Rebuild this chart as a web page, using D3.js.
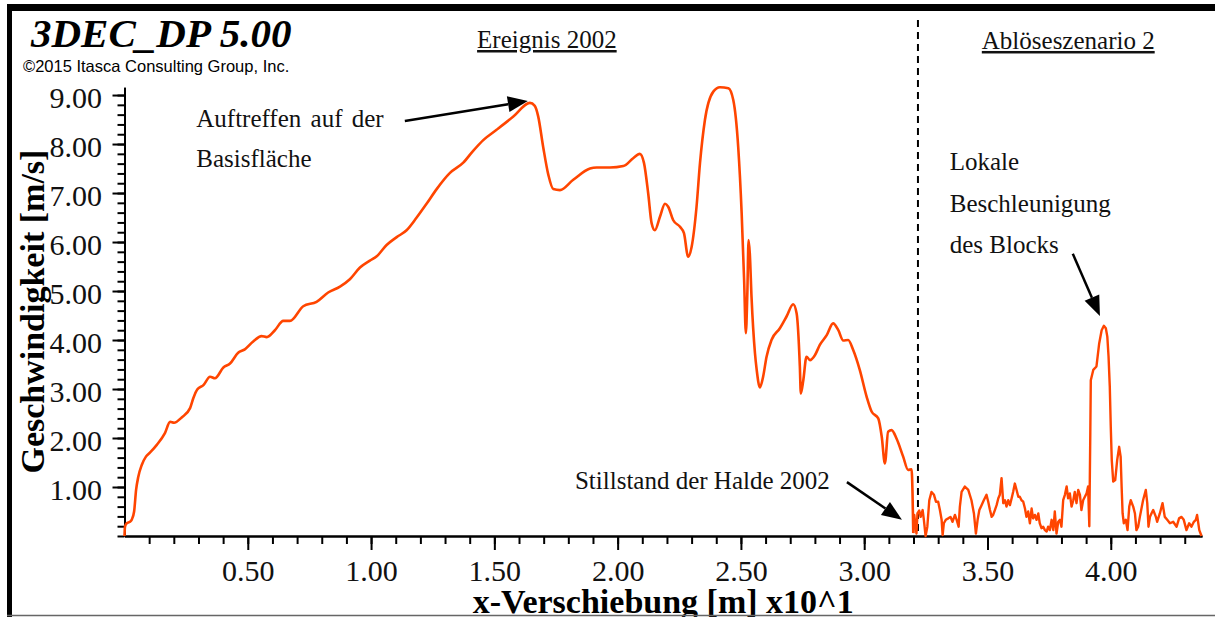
<!DOCTYPE html>
<html>
<head>
<meta charset="utf-8">
<script src="https://cdn.jsdelivr.net/npm/d3@7"></script>
<style>
  html, body { margin: 0; padding: 0; background: #fff; }
  svg { display: block; }
</style>
</head>
<body>
<svg id="chart" width="1215" height="617"></svg>
<script>
// x-displacement (x10^1 m) of the block
const displacement = [
  0, 0.002, 0.009, 0.022, 0.029, 0.039, 0.047, 0.056, 0.070, 0.087,
  0.103, 0.131, 0.164, 0.185, 0.201, 0.232, 0.266, 0.279, 0.295, 0.320,
  0.347, 0.367, 0.401, 0.428, 0.461, 0.488, 0.522, 0.556, 0.577, 0.610,
  0.644, 0.671, 0.725, 0.779, 0.826, 0.874, 0.914, 0.955, 0.995, 1.023,
  1.063, 1.104, 1.144, 1.185, 1.225, 1.266, 1.320, 1.374, 1.414, 1.455,
  1.509, 1.577, 1.644, 1.664, 1.678, 1.698, 1.719, 1.739, 1.766, 1.820,
  1.888, 1.915, 1.969, 2.023, 2.063, 2.090, 2.107, 2.124, 2.138, 2.151,
  2.172, 2.192, 2.205, 2.225, 2.253, 2.269, 2.286, 2.300, 2.320, 2.334,
  2.354, 2.388, 2.415, 2.449, 2.469, 2.489, 2.503, 2.513, 2.520, 2.526,
  2.531, 2.536, 2.543, 2.557, 2.564, 2.577, 2.590, 2.604, 2.624, 2.658,
  2.685, 2.712, 2.726, 2.739, 2.743, 2.753, 2.766, 2.780, 2.800, 2.820,
  2.848, 2.874, 2.895, 2.915, 2.935, 2.955, 2.982, 3.010, 3.030, 3.057,
  3.071, 3.084, 3.097, 3.111, 3.131, 3.158, 3.178, 3.192, 3.196, 3.199,
  3.203, 3.207, 3.212, 3.216, 3.223, 3.229, 3.237, 3.242, 3.249, 3.256,
  3.264, 3.273, 3.283, 3.291, 3.300, 3.307, 3.314, 3.318, 3.323, 3.331,
  3.341, 3.350, 3.358, 3.368, 3.375, 3.383, 3.388, 3.395, 3.408, 3.422,
  3.435, 3.445, 3.453, 3.460, 3.467, 3.476, 3.485, 3.496, 3.503, 3.510,
  3.517, 3.523, 3.530, 3.537, 3.544, 3.550, 3.557, 3.564, 3.571, 3.577,
  3.584, 3.591, 3.598, 3.604, 3.611, 3.618, 3.625, 3.631, 3.638, 3.645,
  3.652, 3.658, 3.665, 3.672, 3.679, 3.685, 3.692, 3.699, 3.706, 3.712,
  3.719, 3.726, 3.733, 3.740, 3.746, 3.753, 3.760, 3.767, 3.773, 3.780,
  3.787, 3.794, 3.800, 3.807, 3.814, 3.821, 3.827, 3.834, 3.841, 3.848,
  3.854, 3.861, 3.868, 3.875, 3.881, 3.888, 3.895, 3.902, 3.908, 3.913,
  3.917, 3.919, 3.929, 3.942, 3.953, 3.963, 3.972, 3.980, 3.986, 3.991,
  3.996, 4.000, 4.004, 4.010, 4.018, 4.026, 4.034, 4.040, 4.044, 4.048,
  4.053, 4.061, 4.068, 4.075, 4.081, 4.091, 4.098, 4.104, 4.111, 4.118,
  4.131, 4.142, 4.148, 4.153, 4.159, 4.165, 4.172, 4.183, 4.188, 4.199,
  4.210, 4.219, 4.229, 4.240, 4.253, 4.267, 4.277, 4.287, 4.296, 4.307,
  4.318, 4.327, 4.337, 4.345, 4.350, 4.359, 4.368
];

// velocity (m/s) at each displacement
const velocity = [
  0, 0.19, 0.26, 0.29, 0.33, 0.50, 0.94, 1.21, 1.45, 1.62,
  1.70, 1.86, 2.10, 2.33, 2.31, 2.42, 2.61, 2.81, 2.99, 3.08,
  3.25, 3.22, 3.44, 3.52, 3.74, 3.81, 3.97, 4.08, 4.06, 4.20,
  4.39, 4.39, 4.69, 4.78, 4.97, 5.09, 5.24, 5.48, 5.62, 5.71,
  5.94, 6.10, 6.24, 6.50, 6.78, 7.08, 7.41, 7.62, 7.86, 8.08,
  8.29, 8.56, 8.84, 8.78, 8.56, 7.94, 7.37, 7.08, 7.06, 7.27,
  7.50, 7.52, 7.52, 7.55, 7.71, 7.80, 7.61, 6.99, 6.38, 6.24,
  6.52, 6.78, 6.72, 6.45, 6.31, 6.18, 5.70, 5.90, 6.72, 7.61,
  8.49, 9.07, 9.16, 9.14, 8.90, 7.94, 6.59, 5.22, 4.14, 4.95,
  6.04, 5.77, 4.88, 3.73, 3.39, 3.03, 3.25, 3.66, 4.00, 4.24,
  4.48, 4.73, 4.54, 3.46, 2.91, 3.18, 3.66, 3.59, 3.69, 3.90,
  4.10, 4.34, 4.20, 3.99, 4.00, 3.80, 3.39, 2.84, 2.54, 2.40,
  2.03, 1.48, 2.13, 2.16, 1.99, 1.62, 1.35, 1.36, 0.87, 0.06,
  0.43, 0.26, 0.05, 0.46, 0.52, 0.39, 0.53, 0.33, 0.00, 0.19,
  0.73, 0.90, 0.84, 0.70, 0.70, 0.53, 0.33, 0.02, 0.26, 0.33,
  0.36, 0.39, 0.29, 0.43, 0.33, 0.19, 0.60, 0.90, 1.01, 0.94,
  0.73, 0.46, 0.05, 0.33, 0.53, 0.63, 0.73, 0.84, 0.70, 0.53,
  0.39, 0.43, 0.53, 0.63, 0.77, 0.84, 1.18, 0.67, 0.73, 0.60,
  0.73, 0.63, 0.77, 0.90, 1.07, 0.94, 0.80, 0.80, 0.73, 0.70,
  0.56, 0.39, 0.50, 0.26, 0.56, 0.36, 0.43, 0.33, 0.46, 0.26,
  0.16, 0.19, 0.12, 0.09, 0.19, 0.12, 0.33, 0.12, 0.50, 0.05,
  0.29, 0.33, 0.19, 0.73, 0.84, 1.01, 0.77, 0.87, 0.60, 0.73,
  0.90, 0.67, 0.94, 0.84, 0.53, 0.73, 0.80, 0.87, 1.01, 0.20,
  2.10, 3.18, 3.39, 3.46, 3.93, 4.20, 4.29, 4.24, 4.07, 3.66,
  3.05, 2.23, 1.55, 1.11, 1.14, 1.55, 1.82, 1.62, 1.01, 0.46,
  0.26, 0.33, 0.12, 0.60, 0.73, 0.60, 0.46, 0.12, 0.19, 0.39,
  0.73, 0.94, 0.67, 0.19, 0.39, 0.46, 0.53, 0.39, 0.29, 0.46,
  0.67, 0.39, 0.33, 0.26, 0.29, 0.19, 0.36, 0.39, 0.33, 0.12,
  0.26, 0.19, 0.29, 0.33, 0.43, 0.12, 0.00
];

const xMajorTicks = [0.5, 1.0, 1.5, 2.0, 2.5, 3.0, 3.5, 4.0];
const xMinorTicks = d3.range(1, 44).map(i => i / 10);
const yMajorTicks = [1, 2, 3, 4, 5, 6, 7, 8, 9];
const yMinorTicks = d3.range(0, 46).map(i => i / 5);

// boundary between the 2002 event and release scenario 2
const stillstandX = 3.218;

const serif = "'Liberation Serif', 'Times New Roman', serif";
const sans = "'Liberation Sans', Arial, sans-serif";
const lineColor = "#ff4500";

const svg = d3.select("#chart");

const x = d3.scaleLinear().domain([0, 4.37]).range([124.5, 1202]);
const y = d3.scaleLinear().domain([0, 9.16]).range([536, 87.2]);

// page frame
svg.append("rect").attr("x", 7).attr("y", 4).attr("width", 1215).attr("height", 7).attr("fill", "#000");
svg.append("rect").attr("x", 7).attr("y", 4).attr("width", 5).attr("height", 613).attr("fill", "#000");

// header
svg.append("text").attr("x", 31).attr("y", 47)
  .attr("font-family", serif).attr("font-weight", "bold").attr("font-style", "italic")
  .attr("font-size", 41).attr("fill", "#000").text("3DEC_DP 5.00");
svg.append("text").attr("x", 23).attr("y", 72)
  .attr("font-family", sans).attr("font-size", 16.5).attr("fill", "#000")
  .text("\u00a92015 Itasca Consulting Group, Inc.");

// axes
function styleAxis(g) {
  g.select(".domain").attr("stroke", "#000").attr("stroke-width", 2);
  g.selectAll(".tick line").attr("stroke", "#000").attr("stroke-width", 2);
  g.selectAll(".tick text").attr("font-family", serif).attr("font-size", 30).attr("fill", "#111");
}

const xMinor = svg.append("g").attr("transform", `translate(0,${y(0)})`)
  .call(d3.axisBottom(x).tickValues(xMinorTicks).tickSize(8).tickSizeOuter(0).tickFormat(""));
styleAxis(xMinor);
const xMajor = svg.append("g").attr("transform", `translate(0,${y(0)})`)
  .call(d3.axisBottom(x).tickValues(xMajorTicks).tickSize(14).tickSizeOuter(0)
    .tickPadding(10).tickFormat(d3.format(".2f")));
styleAxis(xMajor);

const yMinor = svg.append("g").attr("transform", `translate(${x(0)},0)`)
  .call(d3.axisLeft(y).tickValues(yMinorTicks).tickSize(7).tickSizeOuter(0).tickFormat(""));
styleAxis(yMinor);
const yMajor = svg.append("g").attr("transform", `translate(${x(0)},0)`)
  .call(d3.axisLeft(y).tickValues(yMajorTicks).tickSize(12).tickSizeOuter(0)
    .tickPadding(10.5).tickFormat(d3.format(".2f")));
styleAxis(yMajor);
yMajor.selectAll(".tick text").attr("dy", "0.4em");

// axis titles
svg.append("text")
  .attr("transform", `translate(44,${(y(0) + y(9.16)) / 2}) rotate(-90)`)
  .attr("text-anchor", "middle")
  .attr("font-family", serif).attr("font-weight", "bold").attr("font-size", 34).attr("fill", "#000")
  .text("Geschwindigkeit [m/s]");
svg.append("text")
  .attr("x", (x(0) + x(4.37)) / 2).attr("y", 613)
  .attr("text-anchor", "middle")
  .attr("font-family", serif).attr("font-weight", "bold").attr("font-size", 34).attr("fill", "#000")
  .text("x-Verschiebung [m] x10^1");

// bottom edge of the page frame
svg.append("line").attr("x1", 7).attr("x2", 1215).attr("y1", 615.5).attr("y2", 615.5)
  .attr("stroke", "#666").attr("stroke-width", 1.5);

// separator between the two scenarios
svg.append("line")
  .attr("x1", x(stillstandX)).attr("x2", x(stillstandX))
  .attr("y1", y(10.53)).attr("y2", y(0))
  .attr("stroke", "#000").attr("stroke-width", 2).attr("stroke-dasharray", "7,5");

// velocity curve: smooth sliding phase, jagged after standstill
const pts = displacement.map((d, i) => [d, velocity[i]]);
const sliding = pts.filter(p => p[0] <= 3.1995);
const after = pts.filter(p => p[0] >= 3.1985);
svg.append("path")
  .datum(sliding)
  .attr("fill", "none")
  .attr("stroke", lineColor)
  .attr("stroke-width", 2.6)
  .attr("stroke-linejoin", "round")
  .attr("d", d3.line().curve(d3.curveMonotoneX).x(d => x(d[0])).y(d => y(d[1])));
svg.append("path")
  .datum(after)
  .attr("fill", "none")
  .attr("stroke", lineColor)
  .attr("stroke-width", 2.4)
  .attr("stroke-linejoin", "round")
  .attr("d", d3.line().x(d => x(d[0])).y(d => y(d[1])));

// annotations
function label(lines, dx, v0, lineStep, opts = {}) {
  lines.forEach((t, i) => {
    const el = svg.append("text")
      .attr("x", x(dx)).attr("y", y(v0) + i * lineStep)
      .attr("font-family", serif).attr("font-size", 25).attr("fill", "#111")
      .attr("word-spacing", opts.wordSpacing || 0)
      .text(t);
    if (opts.underline) el.attr("text-decoration", "underline");
  });
}
label(["Ereignis 2002"], 1.430, 9.96, 0, { underline: true });
label(["Abl\u00f6seszenario 2"], 3.477, 9.94, 0, { underline: true });
label(["Auftreffen auf der", "Basisfl\u00e4che"], 0.291, 8.35, 40, { wordSpacing: 3 });
label(["Lokale", "Beschleunigung", "des Blocks"], 3.347, 7.47, 41.5);
label(["Stillstand der Halde 2002"], 1.827, 0.96, 0);

function arrow(x0, v0, x1, v1) {
  const p0 = [x(x0), y(v0)], p1 = [x(x1), y(v1)];
  const a = Math.atan2(p1[1] - p0[1], p1[0] - p0[0]);
  const len = 20, half = 8;
  const base = [p1[0] - len * Math.cos(a), p1[1] - len * Math.sin(a)];
  svg.append("line")
    .attr("x1", p0[0]).attr("y1", p0[1]).attr("x2", base[0]).attr("y2", base[1])
    .attr("stroke", "#000").attr("stroke-width", 2.5);
  const n = [-Math.sin(a), Math.cos(a)];
  svg.append("polygon")
    .attr("points", [p1, [base[0] + n[0] * half, base[1] + n[1] * half],
                         [base[0] - n[0] * half, base[1] - n[1] * half]].map(p => p.join(",")).join(" "))
    .attr("fill", "#000");
}
arrow(1.137, 8.47, 1.636, 8.88);
arrow(2.930, 1.10, 3.153, 0.33);
arrow(3.846, 5.76, 3.956, 4.49);
</script>
</body>
</html>
